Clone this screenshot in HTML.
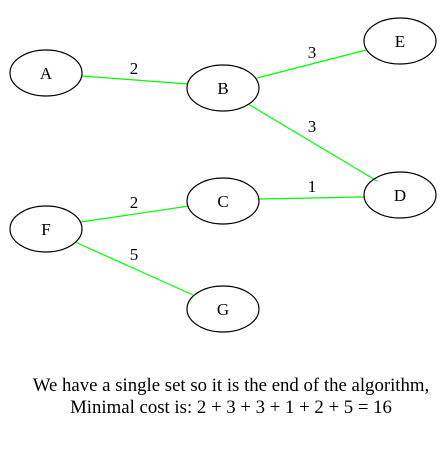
<!DOCTYPE html>
<html><head><style>body{margin:0;background:#fff}svg{display:block}</style></head><body>
<svg width="447" height="451" xmlns="http://www.w3.org/2000/svg" font-family="Liberation Serif, serif" font-size="17">
<g stroke="#00ff00" stroke-width="1.2">
<line x1="82" y1="76" x2="188" y2="84"/>
<line x1="257" y1="78" x2="366" y2="50"/>
<line x1="248" y1="104" x2="377" y2="181"/>
<line x1="259" y1="199" x2="364" y2="197"/>
<line x1="81" y1="222" x2="189" y2="206"/>
<line x1="75" y1="242" x2="193" y2="295"/>
</g>
<g fill="none" stroke="#000" stroke-width="1.2">
<ellipse cx="46" cy="73" rx="36" ry="23"/>
<ellipse cx="223" cy="88" rx="36" ry="23"/>
<ellipse cx="400" cy="41" rx="36" ry="23"/>
<ellipse cx="400" cy="195" rx="36" ry="23"/>
<ellipse cx="223" cy="201" rx="36" ry="23"/>
<ellipse cx="46" cy="229" rx="36" ry="23"/>
<ellipse cx="223" cy="309" rx="36" ry="23"/>
</g>
<g text-anchor="middle">
<text x="46" y="79">A</text><text x="223" y="94">B</text><text x="400" y="47">E</text>
<text x="400" y="201">D</text><text x="223" y="207">C</text><text x="46" y="235">F</text>
<text x="223" y="315">G</text>
<text x="134" y="74">2</text><text x="312" y="58">3</text><text x="312" y="132">3</text>
<text x="312" y="192">1</text><text x="134" y="208">2</text><text x="134" y="260">5</text>
<text x="231" y="391" font-size="18.8">We have a single set so it is the end of the algorithm,</text>
<text x="231" y="413" font-size="18.8">Minimal cost is: 2 + 3 + 3 + 1 + 2 + 5 = 16</text>
</g>
</svg>
</body></html>
